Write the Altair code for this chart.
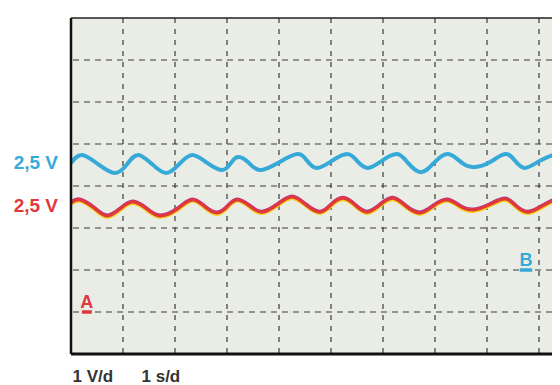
import altair as alt
import pandas as pd

# time in divisions (1 s/d), voltage in volts (1 V/d)
t_blue = [0.00, 0.21, 0.52, 0.85, 1.08, 1.29, 1.56, 1.83, 2.08, 2.33, 2.62, 2.90, 3.06, 3.21,
          3.42, 3.63, 3.98, 4.35, 4.54, 4.73, 5.02, 5.31, 5.50, 5.71, 5.98, 6.27, 6.48, 6.73,
          6.98, 7.25, 7.52, 7.77, 8.06, 8.35, 8.54, 8.73, 9.02, 9.33, 9.40]
v_blue = [2.55, 2.74, 2.52, 2.31, 2.52, 2.74, 2.52, 2.31, 2.52, 2.74, 2.55, 2.38, 2.52, 2.69,
          2.55, 2.38, 2.55, 2.76, 2.60, 2.43, 2.60, 2.76, 2.60, 2.43, 2.60, 2.76, 2.55, 2.33,
          2.55, 2.76, 2.55, 2.45, 2.57, 2.76, 2.60, 2.43, 2.60, 2.76, 2.74]
t_red = [0.00, 0.17, 0.44, 0.69, 0.94, 1.19, 1.46, 1.71, 2.04, 2.33, 2.58, 2.81, 3.00, 3.19,
         3.44, 3.67, 3.96, 4.25, 4.52, 4.79, 5.00, 5.23, 5.46, 5.69, 5.94, 6.19, 6.44, 6.71,
         6.96, 7.23, 7.48, 7.73, 8.04, 8.35, 8.56, 8.79, 9.06, 9.31, 9.40]
v_red = [2.60, 2.67, 2.48, 2.29, 2.45, 2.62, 2.45, 2.29, 2.45, 2.67, 2.50, 2.36, 2.50, 2.67,
         2.52, 2.38, 2.55, 2.74, 2.55, 2.38, 2.55, 2.71, 2.55, 2.38, 2.55, 2.71, 2.52, 2.36,
         2.52, 2.67, 2.52, 2.43, 2.55, 2.69, 2.52, 2.38, 2.52, 2.67, 2.64]

ground_names = ["A", "B"]
ground_div = [1, 2]
ground_t0 = [0.21, 8.63]
ground_t1 = [0.40, 8.87]
channel_labels = ["2,5 V", "2,5 V"]
scale_labels = ["1 V/d", "1 s/d"]
grid_t = [1, 2, 3, 4, 5, 6, 7, 8, 9]
grid_div = [1, 2, 3, 4, 5, 6, 7]

BLUE = "#35aad9"
RED = "#e0393b"
W, H = 481, 336

xs = alt.Scale(domain=[0, 481 / 52], nice=False, zero=False)
ys = alt.Scale(domain=[0, 8], nice=False, zero=False)

blue_df = pd.DataFrame({"t": t_blue, "level": [v + ground_div[1] for v in v_blue]})
red_df = pd.DataFrame({"t": t_red, "level": [v + ground_div[0] for v in v_red]})


def X(f="t"):
    return alt.X(f"{f}:Q", scale=xs, axis=None)


def Y(f="level"):
    return alt.Y(f"{f}:Q", scale=ys, axis=None)


vgrid = alt.Chart(pd.DataFrame({"t": grid_t})).mark_rule(
    color="#3a3a3a", strokeWidth=1.2, strokeDash=[5, 6]).encode(x=X())
hgrid = alt.Chart(pd.DataFrame({"d": grid_div})).mark_rule(
    color="#3a3a3a", strokeWidth=1.2, strokeDash=[6, 5]).encode(y=Y("d"))

left_border = alt.Chart(pd.DataFrame({"t": [0]})).mark_rule(
    color="#111111", strokeWidth=2.5).encode(x=X())
top_border = alt.Chart(pd.DataFrame({"d": [8]})).mark_rule(
    color="#222222", strokeWidth=1.6).encode(y=Y("d"))
bottom_border = alt.Chart(pd.DataFrame({"d": [0]})).mark_rule(
    color="#111111", strokeWidth=3).encode(y=Y("d"))

LINE = dict(interpolate="natural", clip=True)
blue_line = alt.Chart(blue_df).mark_line(
    color=BLUE, strokeWidth=4, **LINE).encode(x=X(), y=Y())
red_yellow = alt.Chart(red_df).mark_line(
    color="#f2d21a", strokeWidth=3.2, yOffset=1.4, **LINE).encode(x=X(), y=Y())
red_purple = alt.Chart(red_df).mark_line(
    color="#b8348c", strokeWidth=3, yOffset=-0.9, **LINE).encode(x=X(), y=Y())
red_line = alt.Chart(red_df).mark_line(
    color=RED, strokeWidth=3.2, **LINE).encode(x=X(), y=Y())

gdf = pd.DataFrame({"name": ground_names, "level": ground_div,
                    "t0": ground_t0, "t1": ground_t1,
                    "tc": [(a + b) / 2 for a, b in zip(ground_t0, ground_t1)],
                    "col": [RED, BLUE]})
ground_marks = alt.Chart(gdf).mark_rule(strokeWidth=3.5).encode(
    x=X("t0"), x2="t1:Q", y=Y(), color=alt.Color("col:N", scale=None))
ground_text = alt.Chart(gdf).mark_text(
    font="Liberation Sans", fontWeight="bold", fontSize=18, baseline="alphabetic", dy=-4
).encode(x=X("tc"), y=Y(), text="name:N", color=alt.Color("col:N", scale=None))

ldf = pd.DataFrame({"label": channel_labels, "col": [BLUE, RED], "py": [151, 193.5]})
chan_text = alt.Chart(ldf).mark_text(
    font="Liberation Sans", fontWeight="bold", fontSize=19, align="right", baseline="alphabetic"
).encode(x=alt.value(-13), y=alt.Y("py:Q", scale=None, axis=None), text="label:N",
         color=alt.Color("col:N", scale=None))

sdf = pd.DataFrame({"label": scale_labels, "px": [1.5, 70.5]})
scale_text = alt.Chart(sdf).mark_text(
    font="Liberation Sans", fontWeight="bold", fontSize=17, align="left", baseline="alphabetic",
    color="#333333"
).encode(x=alt.X("px:Q", scale=None, axis=None), y=alt.value(364), text="label:N")

chart = alt.layer(
    vgrid, hgrid, red_yellow, red_purple, red_line, blue_line,
    ground_marks, ground_text, left_border, top_border, bottom_border,
    chan_text, scale_text
).properties(
    width=W, height=H,
    autosize=alt.AutoSizeParams(type="none"),
    padding={"left": 63, "top": 10, "right": 0, "bottom": 31},
    background="white"
).configure_view(stroke=None, fill="#eaece6")

chart.save("out.html", embed_options={"renderer": "svg", "actions": False})
